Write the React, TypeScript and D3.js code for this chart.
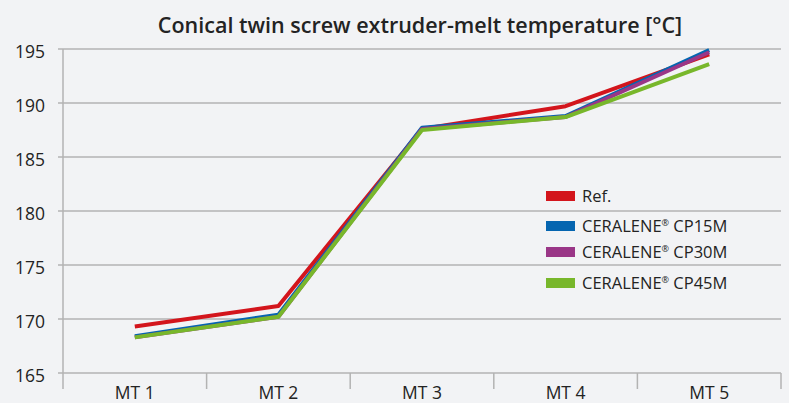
import React from "react";
import * as d3 from "d3";

const categories = ["MT 1", "MT 2", "MT 3", "MT 4", "MT 5"];
const refValues = [169.3, 171.2, 187.6, 189.7, 194.5];
const cp15Values = [168.4, 170.4, 187.7, 188.8, 194.9];
const cp30Values = [168.3, 170.2, 187.6, 188.7, 194.7];
const cp45Values = [168.3, 170.2, 187.5, 188.7, 193.6];
const yTicks = [165, 170, 175, 180, 185, 190, 195];
const seriesNames = ["Ref.", "CERALENE", "CERALENE", "CERALENE"];
const seriesSuffix = ["", " CP15M", " CP30M", " CP45M"];
const seriesColors = ["#d3151c", "#0565b0", "#9a3687", "#78b72b"];
const title = "Conical twin screw extruder-melt temperature [°C]";

export default function App() {
  const W = 789, H = 403;
  const left = 63, right = 781, top = 49, bottom = 373;
  const x = d3.scaleBand<string>().domain(categories).range([left, right]);
  const y = d3.scaleLinear().domain([165, 195]).range([bottom, top]);
  const series = [refValues, cp15Values, cp30Values, cp45Values];
  const line = d3
    .line<number>()
    .x((_, i) => (x(categories[i]) as number) + x.bandwidth() / 2)
    .y((d) => y(d));
  const legendY = [196, 226, 252, 283];
  const font = "'Open Sans', 'Noto Sans', sans-serif";
  const text = "#232323";
  const grid = "#b3b3b3";
  return (
    <svg
      width={W}
      height={H}
      style={{ position: "absolute", left: 0, top: 0, display: "block", background: "#f2f3f5" }}
      fontFamily={font}
    >
      <rect width={W} height={H} fill="#f2f3f5" />
      <text x={420} y={33} textAnchor="middle" fontSize={21.5} fontWeight={600} fill={text}>
        {title}
      </text>
      {yTicks.map((t) => (
        <g key={t}>
          <line x1={58} x2={right} y1={y(t)} y2={y(t)} stroke={grid} strokeWidth={1.5} />
          <text x={45} y={y(t) + 8.5} textAnchor="end" fontSize={17.5} fill={text}>
            {t}
          </text>
        </g>
      ))}
      <line x1={left} x2={left} y1={top} y2={bottom + 16} stroke={grid} strokeWidth={1.5} />
      {categories.map((c) => (
        <g key={c}>
          <line
            x1={(x(c) as number) + x.bandwidth()}
            x2={(x(c) as number) + x.bandwidth()}
            y1={bottom}
            y2={bottom + 16}
            stroke={grid}
            strokeWidth={1.5}
          />
          <text
            x={(x(c) as number) + x.bandwidth() / 2}
            y={399}
            textAnchor="middle"
            fontSize={17.5}
            fill={text}
          >
            {c}
          </text>
        </g>
      ))}
      {series.map((s, i) => (
        <path
          key={i}
          d={line(s) || ""}
          fill="none"
          stroke={seriesColors[i]}
          strokeWidth={4}
          strokeLinejoin="round"
        />
      ))}
      {seriesNames.map((n, i) => (
        <g key={i}>
          <rect x={546} y={legendY[i] - 5} width={29} height={10} fill={seriesColors[i]} />
          <text x={582} y={legendY[i] + 6} fontSize={16.5} fill={text}>
            {n}
            {i > 0 ? (
              <tspan fontSize={9} dy={-6}>
                ®
              </tspan>
            ) : null}
            {i > 0 ? <tspan dy={6}>{seriesSuffix[i]}</tspan> : null}
          </text>
        </g>
      ))}
    </svg>
  );
}
